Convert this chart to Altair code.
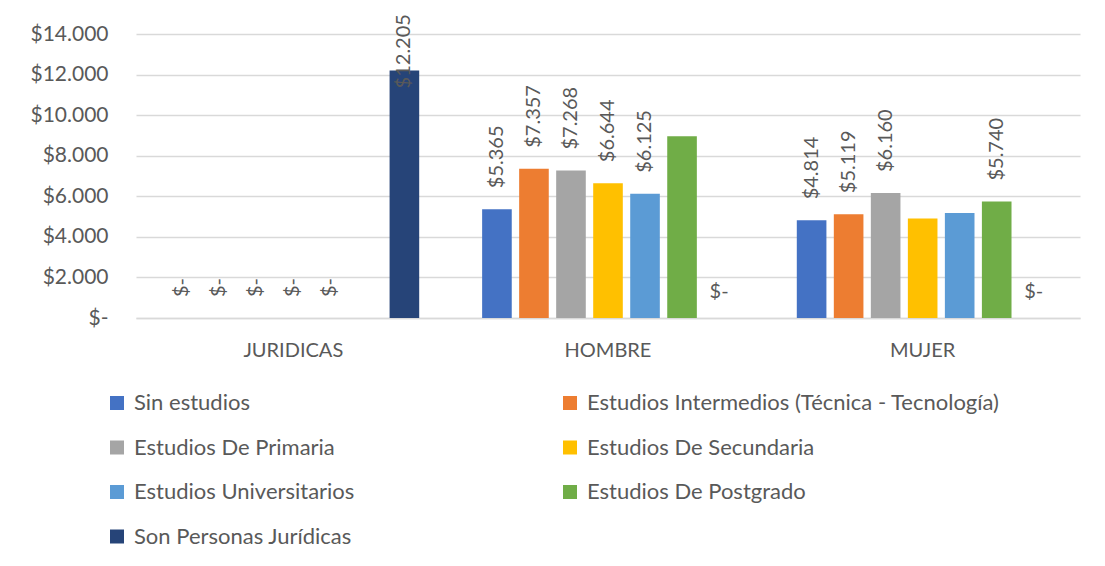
import altair as alt
import pandas as pd

categories = ["JURIDICAS", "HOMBRE", "MUJER"]
series = [
    "Sin estudios",
    "Estudios Intermedios (Técnica - Tecnología)",
    "Estudios De Primaria",
    "Estudios De Secundaria",
    "Estudios Universitarios",
    "Estudios De Postgrado",
    "Son Personas Jurídicas",
]
colors = ["#4472C4", "#ED7D31", "#A5A5A5", "#FFC000", "#5B9BD5", "#70AD47", "#264478"]

sin_estudios = [0, 5365, 4814]
intermedios = [0, 7357, 5119]
primaria = [0, 7268, 6160]
secundaria = [0, 6644, 4900]
universitarios = [0, 6125, 5175]
postgrado = [0, 8960, 5740]
juridicas = [12205, 0, 0]

lbl_sin = ["$-", "$5.365", "$4.814"]
lbl_inter = ["$-", "$7.357", "$5.119"]
lbl_prim = ["$-", "$7.268", "$6.160"]
lbl_sec = ["$-", "$6.644", ""]
lbl_univ = ["$-", "$6.125", ""]
lbl_post = ["", "", "$5.740"]
lbl_jur = ["$12.205", "$-", "$-"]

vals = [sin_estudios, intermedios, primaria, secundaria, universitarios, postgrado, juridicas]
lbls = [lbl_sin, lbl_inter, lbl_prim, lbl_sec, lbl_univ, lbl_post, lbl_jur]

rows = []
for s, v, l in zip(series, vals, lbls):
    for c, vv, ll in zip(categories, v, l):
        rows.append({"cat": c, "serie": s, "valor": vv, "label": ll})
df = pd.DataFrame(rows)

FONT = "Lato"
GREY = "#595959"
FS = 20

x = alt.X("cat:N", sort=categories, title=None,
          scale=alt.Scale(domain=categories, paddingInner=0, paddingOuter=0),
          axis=alt.Axis(labelAngle=0, labelFontSize=20, labelColor=GREY, labelFont=FONT,
                        ticks=False, labelPadding=22, domainColor="#D9D9D9", domainWidth=1.5,
                        grid=False))
xo = alt.XOffset("serie:N", sort=series,
                 scale=alt.Scale(domain=series, paddingInner=0.2, paddingOuter=0.85))
y = alt.Y("valor:Q", title=None,
          scale=alt.Scale(domain=[0, 14000], nice=False),
          axis=alt.Axis(values=[0, 2000, 4000, 6000, 8000, 10000, 12000, 14000],
                        labelExpr="datum.value == 0 ? '$-' : '$' + replace(format(datum.value, ',.0f'), ',', '.')",
                        labelFontSize=21, labelColor=GREY, labelFont=FONT, labelPadding=28,
                        ticks=False, domain=False, gridColor="#D9D9D9", gridWidth=1.5))

base = alt.Chart(df)

bars = base.mark_bar().encode(
    x=x, xOffset=xo, y=y,
    color=alt.Color("serie:N", sort=series,
                    scale=alt.Scale(domain=series, range=colors),
                    legend=alt.Legend(title=None, orient="none", legendX=-30, legendY=358,
                                      direction="horizontal",
                                      columns=2, columnPadding=204, rowPadding=22.5,
                                      symbolType="square", symbolSize=196, symbolStrokeWidth=0,
                                      labelFontSize=22, labelColor=GREY, labelFont=FONT,
                                      labelLimit=1000, labelOffset=6, padding=0)),
)

rot = base.transform_filter(
    "datum.label != '' && datum.valor < 12000 && !(datum.serie == 'Son Personas Jurídicas')"
).mark_text(angle=270, align="left", baseline="middle", dx=21, fontSize=FS,
            font=FONT, color=GREY).encode(x=x, xOffset=xo, y=y, text="label:N")

inside = base.transform_filter("datum.valor >= 12000").mark_text(
    angle=270, align="left", baseline="middle", dx=-18, fontSize=FS, font=FONT, color=GREY
).encode(x=x, xOffset=xo, y=y, text="label:N")

horiz = base.transform_filter(
    "datum.serie == 'Son Personas Jurídicas' && datum.cat != 'JURIDICAS'"
).mark_text(align="center", baseline="middle", dy=-26, fontSize=FS, font=FONT,
            color=GREY).encode(x=x, xOffset=xo, y=y, text="label:N")

chart = alt.layer(bars, rot, inside, horiz).properties(
    width=944, height=284,
    autosize=alt.AutoSizeParams(type="none"),
    padding={"left": 128, "top": 26, "right": 17, "bottom": 240},
    background="white",
).configure_view(stroke=None)

chart.save("out.html", embed_options={"renderer": "svg", "actions": False})
